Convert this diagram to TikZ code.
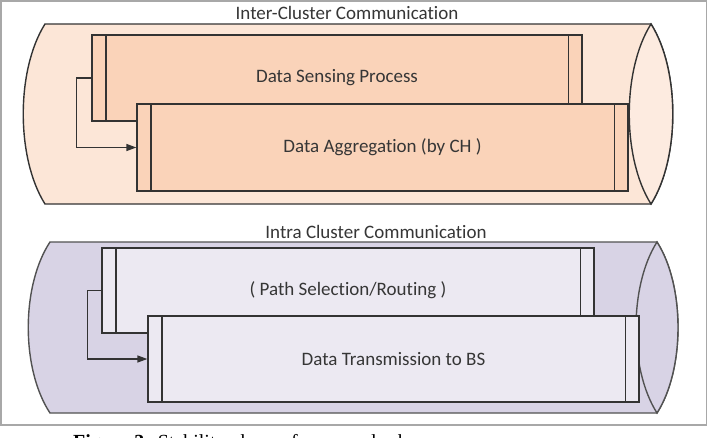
\documentclass[tikz,border=0pt]{standalone}
\usepackage{fontspec}
\setmainfont{Carlito}[Ligatures=NoCommon]
\newfontfamily\capfont{Liberation Serif}
\usetikzlibrary{arrows.meta}
\definecolor{ink}{HTML}{333333}
\definecolor{txt}{HTML}{363636}
\definecolor{peachbg}{HTML}{FCE6D7}
\definecolor{peachend}{HTML}{FDEBE0}
\definecolor{peachbox}{HTML}{FAD3B9}
\definecolor{lavbg}{HTML}{D8D3E5}
\definecolor{lavbox}{HTML}{ECE9F2}
\definecolor{framegray}{HTML}{A8A8A8}
\tikzset{
  x=1pt, y=-1pt,
  lbl/.style={font=\fontsize{19}{22}\selectfont, text=txt, inner sep=0pt},
  procbox/.style={draw=ink, line width=1.3pt, inner sep=0pt, font=\fontsize{19}{22}\selectfont, text=txt},
  topbox/.style={procbox, fill=peachbox},
  botbox/.style={procbox, fill=lavbox},
  flow/.style={draw=ink, line width=1.3pt, -{Triangle[length=10pt,width=7pt]}},
  cyl/.style={line width=1.4pt}
}
\newcommand{\innerbars}[1]{%
  \draw[ink, line width=1.3pt] ([xshift=14.5pt]#1.north west) -- ([xshift=14.5pt]#1.south west);
  \draw[ink, line width=1.3pt] ([xshift=-14.5pt]#1.north east) -- ([xshift=-14.5pt]#1.south east);}
\begin{document}
\begin{tikzpicture}
\useasboundingbox (0,0) rectangle (709,437);
\fill[white] (0,0) rectangle (709,437);
\draw[framegray, line width=1.5pt] (1,1) rectangle (706.5,425);

% top cylinder
\filldraw[cyl, draw=ink, fill=peachbg]
  (45,24) -- (651,24) .. controls (680,70) and (680,158) .. (651,204)
  -- (45,204) .. controls (16,158) and (16,70) .. (45,24) -- cycle;
\filldraw[cyl, draw=ink, fill=peachend]
  (651,24) .. controls (680,70) and (680,158) .. (651,204)
  .. controls (622,158) and (622,70) .. (651,24) -- cycle;
\node[lbl] (t1) at (347,13) {Inter-Cluster Communication};

\node[topbox, minimum width=490pt, minimum height=86pt] (sense) at (337,78) {Data Sensing Process};
\innerbars{sense}
\node[topbox, minimum width=491pt, minimum height=87pt] (agg) at (382.5,147.5) {Data Aggregation (by CH )};
\innerbars{agg}
\draw[flow] (sense.west) -- ++(-15,0) |- (agg.west);

% bottom cylinder
\filldraw[cyl, draw=ink!85, fill=lavbg]
  (50,242) -- (657,242) .. controls (685,286) and (685,369) .. (657,413)
  -- (50,413) .. controls (21,369) and (21,286) .. (50,242) -- cycle;
\filldraw[cyl, draw=ink!85, fill=lavbg]
  (657,242) .. controls (685,286) and (685,369) .. (657,413)
  .. controls (629,369) and (629,286) .. (657,242) -- cycle;
\node[lbl] (t2) at (376,232) {Intra Cluster Communication};

\node[botbox, minimum width=492pt, minimum height=85pt] (path) at (348,290.5) {( Path Selection/Routing )};
\innerbars{path}
\node[botbox, minimum width=491pt, minimum height=86pt] (trans) at (393.5,359) {Data Transmission to BS};
\innerbars{trans}
\draw[flow] (path.west) -- ++(-14,0) |- (trans.west);

% caption, cut off by the lower edge as in the reference
\begin{scope}
\clip (0,0) rectangle (709,437);
\node[anchor=base west, inner sep=0pt, font=\capfont\fontsize{20}{24}\selectfont] (cap) at (73,448) {\textbf{Figure 3:} Stability phase of proposed scheme};
\end{scope}
\end{tikzpicture}
\end{document}
